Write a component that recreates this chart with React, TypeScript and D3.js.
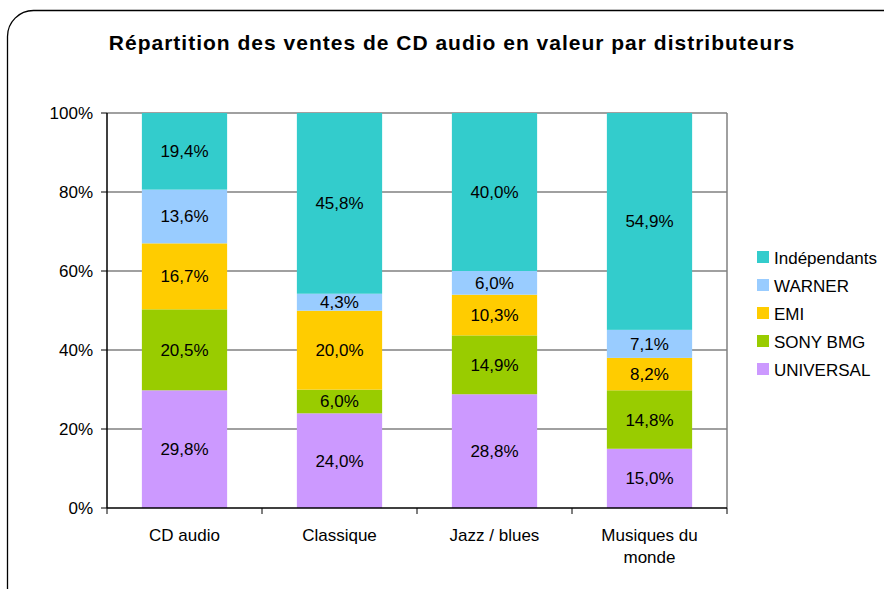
import React from "react";
import * as d3 from "d3";

const categories = ["CD audio", "Classique", "Jazz / blues", "Musiques du monde"];
const categoryLines = [["CD audio"], ["Classique"], ["Jazz / blues"], ["Musiques du", "monde"]];
const seriesNames = ["UNIVERSAL", "SONY BMG", "EMI", "WARNER", "Indépendants"];
const seriesColors = ["#CC99FF", "#99CC00", "#FFCC00", "#99CCFF", "#33CCCC"];
const universal = [29.8, 24.0, 28.8, 15.0];
const sonyBmg = [20.5, 6.0, 14.9, 14.8];
const emi = [16.7, 20.0, 10.3, 8.2];
const warner = [13.6, 4.3, 6.0, 7.1];
const independants = [19.4, 45.8, 40.0, 54.9];
const yTicks = [0, 20, 40, 60, 80, 100];
const legendOrder = [4, 3, 2, 1, 0];

const W = 884, H = 589;
const M = { left: 107, right: 727, top: 113, bottom: 508 };
const font = "'Liberation Sans', Arial, sans-serif";

export default function App() {
  const series = [universal, sonyBmg, emi, warner, independants];
  const x = d3.scaleBand<string>().domain(categories).range([M.left, M.right]).paddingInner(0).paddingOuter(0);
  const y = d3.scaleLinear().domain([0, 100]).range([M.bottom, M.top]);
  const barW = x.bandwidth() * 0.55;

  const rows = categories.map((c, i) => {
    const o: any = { cat: c };
    const total = d3.sum(series, (s) => s[i]);
    series.forEach((s, k) => (o[seriesNames[k]] = (s[i] / total) * 100));
    return o;
  });
  const stacked = d3.stack<any>().keys(seriesNames)(rows);

  return (
    <svg width={W} height={H} style={{ position: "absolute", left: 0, top: 0 }}>
      <rect x={0} y={0} width={W} height={H} fill="#fff" />
      <rect x={7.5} y={10.5} width={W + 40} height={H + 40} rx={26} ry={26} fill="#fff" stroke="#000" strokeWidth={1.3} />
      <text x={452} y={50} textAnchor="middle" fontFamily={font} fontWeight="bold" fontSize={21} letterSpacing={1} fill="#000">
        Répartition des ventes de CD audio en valeur par distributeurs
      </text>
      {yTicks.map((t) => (
        <g key={t}>
          {t > 0 && <line x1={M.left} x2={M.right} y1={y(t)} y2={y(t)} stroke="#808080" strokeWidth={1.3} />}
          <line x1={M.left - 6} x2={M.left} y1={y(t)} y2={y(t)} stroke="#000" strokeWidth={1} />
          <text x={93} y={y(t) + 6} textAnchor="end" fontFamily={font} fontSize={17} fill="#000">{t}%</text>
        </g>
      ))}
      <line x1={M.right} x2={M.right} y1={M.top} y2={M.bottom} stroke="#808080" strokeWidth={1.5} />
      {stacked.map((layer, k) =>
        layer.map((d, i) => {
          const cx = (x(categories[i]) as number) + x.bandwidth() / 2;
          const y0 = y(d[0]), y1 = y(d[1]);
          return (
            <g key={`${k}-${i}`}>
              <rect x={cx - barW / 2} y={y1} width={barW} height={y0 - y1} fill={seriesColors[k]} />
              <text x={cx} y={(y0 + y1) / 2 + 6} textAnchor="middle" fontFamily={font} fontSize={17} fill="#000">
                {series[k][i].toFixed(1).replace(".", ",")}%
              </text>
            </g>
          );
        })
      )}
      <line x1={M.left} x2={M.left} y1={M.top} y2={M.bottom} stroke="#000" strokeWidth={1.5} />
      <line x1={M.left} x2={M.right} y1={M.bottom} y2={M.bottom} stroke="#000" strokeWidth={1.5} />
      {[...categories.map((c) => x(c) as number), M.right].map((tx, i) => (
        <line key={i} x1={tx} x2={tx} y1={M.bottom} y2={M.bottom + 6} stroke="#000" strokeWidth={1} />
      ))}
      {categories.map((c, i) => (
        <text key={c} x={(x(c) as number) + x.bandwidth() / 2} y={541} textAnchor="middle" fontFamily={font} fontSize={17} fill="#000">
          {categoryLines[i].map((l, j) => (
            <tspan key={j} x={(x(c) as number) + x.bandwidth() / 2} dy={j === 0 ? 0 : 22}>{l}</tspan>
          ))}
        </text>
      ))}
      {legendOrder.map((k, j) => (
        <g key={k}>
          <rect x={757} y={251 + j * 28} width={12} height={12} fill={seriesColors[k]} />
          <text x={774} y={264 + j * 28} fontFamily={font} fontSize={17} fill="#000">{seriesNames[k]}</text>
        </g>
      ))}
    </svg>
  );
}
